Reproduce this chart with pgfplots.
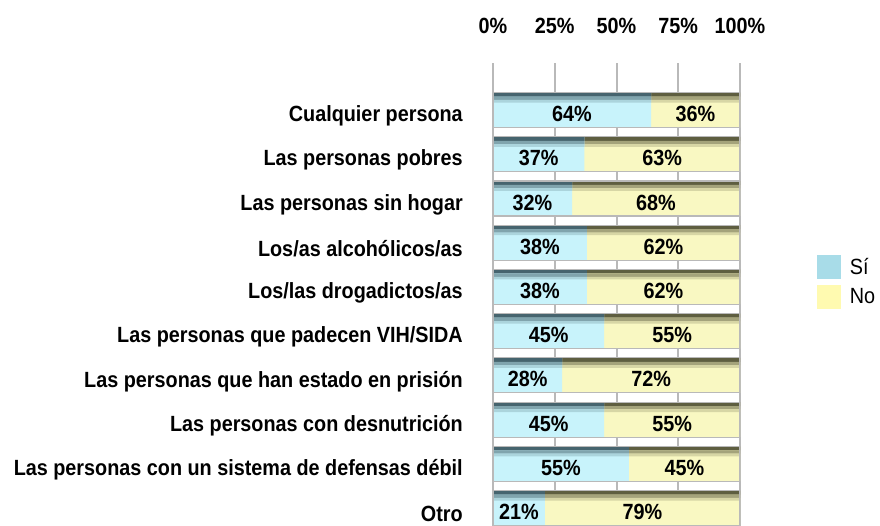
\documentclass[border=0pt]{standalone}
\usepackage{fontspec}
\setmainfont{Liberation Sans}[FakeStretch=0.9]
\usepackage{pgfplots}
\usepackage{pgfplotstable}
\pgfplotsset{compat=1.18}

\definecolor{siL}{HTML}{C8F3FB}
\definecolor{siD}{HTML}{46646E}
\definecolor{noL}{HTML}{F9F8C2}
\definecolor{noD}{HTML}{5E5E40}
\definecolor{legSi}{HTML}{A8DCE8}
\definecolor{legNo}{HTML}{FFFAB0}

\pgfplotstableread{
idx si no
0 64 36
1 37 63
2 32 68
3 38 62
4 38 62
5 45 55
6 28 72
7 45 55
8 55 45
9 21 79
}\data

\pgfplotsset{
  barbase/.style={xbar, bar width=26.25pt, bar shift=0pt, forget plot},
  band1/.style={xbar, bar width=3pt, bar shift=11.625pt, draw=none, forget plot},
  band2/.style={xbar, bar width=2.5pt, bar shift=8.875pt, draw=none, forget plot},
  band3/.style={xbar, bar width=2pt, bar shift=6.625pt, draw=none, forget plot},
  lbl/.style={draw=none, mark=none, forget plot, point meta=explicit symbolic,
    nodes near coords={\pgfplotspointmeta\%},
    every node near coord/.style={anchor=center, inner sep=0pt, yshift=-3pt, font=\bfseries\fontsize{16.5}{17}\selectfont}},
}

\begin{document}
\begin{tikzpicture}
\useasboundingbox (0pt,0pt) rectangle (660pt,-393.75pt);
\clip (0pt,0pt) rectangle (660pt,-393.75pt);
\begin{axis}[
  at={(369.75pt,-47.25pt)}, anchor=north west,
  scale only axis,
  width=185.25pt, height=353.7pt,
  xmin=0, xmax=100,
  ymin=-1.063, ymax=9.6,
  y dir=reverse,
  axis line style={draw=none},
  major tick style={draw=none},
  xtick={0,25,50,75,100},
  xticklabels={0\%,25\%,50\%,75\%,100\%},
  xticklabel pos=right,
  xticklabel style={anchor=base, inner sep=0pt, yshift=22.5pt, font=\bfseries\fontsize{16.5}{17}\selectfont},
  ytick={0,...,9},
  yticklabels={Cualquier persona, Las personas pobres, Las personas sin hogar, Los/as alcohólicos/as, Los/las drogadictos/as, Las personas que padecen VIH/SIDA, Las personas que han estado en prisión, Las personas con desnutrición, Las personas con un sistema de defensas débil, Otro},
  yticklabel style={anchor=east, inner sep=0pt, xshift=-22.5pt, yshift=-4.5pt, font=\bfseries\fontsize{16.5}{17}\selectfont},
  xmajorgrids,
  grid style={gray!55, line width=1.5pt},
  legend style={at={(1.3117,0.593)}, anchor=north west, draw=none, fill=none, inner sep=0pt, row sep=4.5pt, font=\fontsize{16.5}{17}\selectfont, legend cell align=left, /tikz/every odd column/.append style={column sep=4.5pt}},
  legend image code/.code={\path[#1] (0pt,-9pt) rectangle (18pt,9pt);},
]
% No (full bar underneath)
\addplot[barbase, fill=noL, draw=none] table[x expr=\thisrow{si}+\thisrow{no}, y=idx] {\data};
\addplot[band1, fill=noD] table[x expr=\thisrow{si}+\thisrow{no}, y=idx] {\data};
\addplot[band2, fill=noD!55!noL] table[x expr=\thisrow{si}+\thisrow{no}, y=idx] {\data};
\addplot[band3, fill=noD!22!noL] table[x expr=\thisrow{si}+\thisrow{no}, y=idx] {\data};
% Si
\addplot[barbase, fill=siL, draw=none] table[x=si, y=idx] {\data};
\addplot[band1, fill=siD] table[x=si, y=idx] {\data};
\addplot[band2, fill=siD!55!siL] table[x=si, y=idx] {\data};
\addplot[band3, fill=siD!22!siL] table[x=si, y=idx] {\data};
% outline
\addplot[barbase, fill=none, draw=gray!55, line width=0.8pt] table[x expr=\thisrow{si}+\thisrow{no}, y=idx] {\data};
% value labels
\addplot[lbl] table[x expr=\thisrow{si}/2, y=idx, meta=si] {\data};
\addplot[lbl] table[x expr=\thisrow{si}+\thisrow{no}/2, y=idx, meta=no] {\data};
\addlegendimage{fill=legSi, draw=none}
\addlegendentry{Sí}
\addlegendimage{fill=legNo, draw=none}
\addlegendentry{No}
\end{axis}
\end{tikzpicture}
\end{document}
